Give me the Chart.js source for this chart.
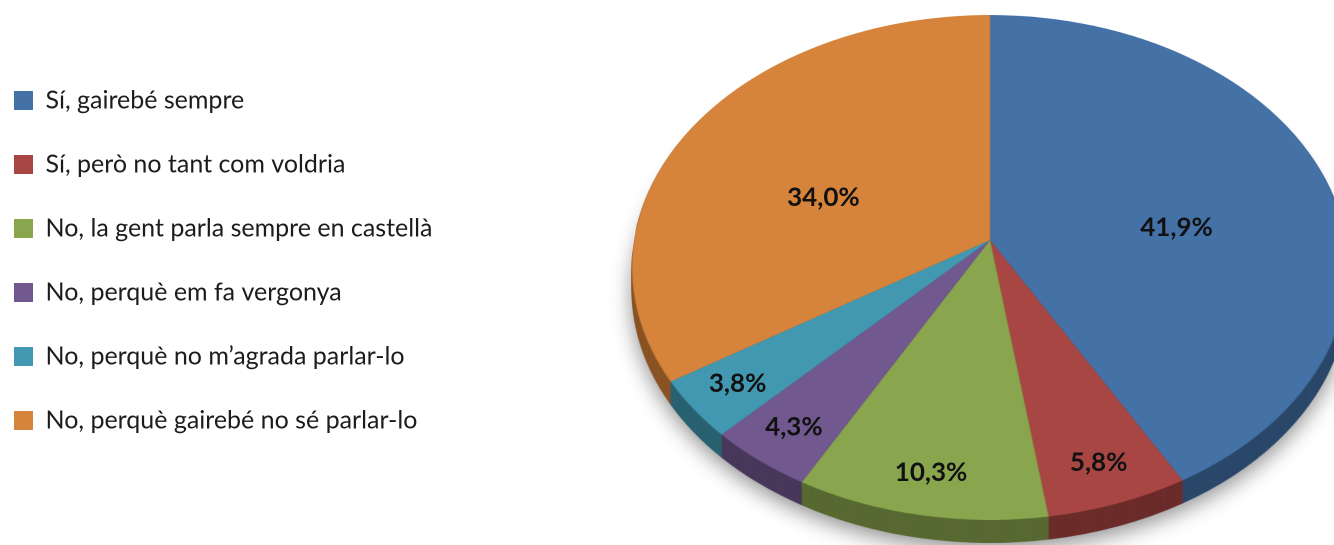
<!DOCTYPE html>
<html>
<head>
<meta charset="utf-8">
<script src="https://cdn.jsdelivr.net/npm/chart.js@4.4.1/dist/chart.umd.min.js"></script>
<style>
  html, body { margin: 0; padding: 0; background: #fff; }
  #wrap { width: 1334px; height: 545px; position: relative; }
</style>
</head>
<body>
<div id="wrap"><canvas id="chart"></canvas></div>
<script>
const categories = [
  "Sí, gairebé sempre",
  "Sí, però no tant com voldria",
  "No, la gent parla sempre en castellà",
  "No, perquè em fa vergonya",
  "No, perquè no m’agrada parlar-lo",
  "No, perquè gairebé no sé parlar-lo"
];
const shares = [41.9, 5.8, 10.3, 4.3, 3.8, 34.0];
const sliceColors = ["#4471a6", "#a84643", "#89a54e", "#71598f", "#4298b0", "#d6833b"];

function formatShare(v) {
  return v.toFixed(1).replace(".", ",") + "%";
}

// takes the flat pie chart.js drew and lays it back in perspective,
// with a dark rim underneath and the percent labels on top
const tiltedPie = {
  id: "tiltedPie",
  afterDatasetsDraw(chart, args, opts) {
    const meta = chart.getDatasetMeta(0);
    const arcs = meta.data;
    const R = arcs[0].outerRadius, x0 = arcs[0].x, y0 = arcs[0].y;
    const dpr = chart.currentDevicePixelRatio;
    const canvas = chart.canvas, ctx = chart.ctx;

    const size = Math.ceil(2 * R * dpr);
    const flat = document.createElement("canvas");
    flat.width = flat.height = size;
    flat.getContext("2d").drawImage(canvas, (x0 - R) * dpr, (y0 - R) * dpr, 2 * R * dpr, 2 * R * dpr, 0, 0, size, size);

    const { cx, cy, top, bottom, rx, depth } = opts;
    const c = (top + bottom - 2 * cy) / (top - bottom);
    const a = cy - top + top * c;
    const k = rx * Math.sqrt(1 - c * c);
    const vAt = (y) => (y - cy) / (a - c * y);
    const project = (u, v) => {
      const d = 1 + c * v;
      return { x: cx + k * u / d, y: (a * v + cy) / d };
    };

    const warped = document.createElement("canvas");
    warped.width = canvas.width;
    warped.height = canvas.height;
    const w = warped.getContext("2d");
    w.setTransform(dpr, 0, 0, dpr, 0, 0);
    const step = 1 / dpr;
    for (let y = top; y < bottom; y += step) {
      const v0 = Math.max(-1, vAt(y));
      const v1 = Math.min(1, vAt(y + step));
      const half = k / (1 + c * (v0 + v1) / 2);
      const sy0 = (v0 + 1) / 2 * size;
      const sy1 = (v1 + 1) / 2 * size;
      w.drawImage(flat, 0, sy0, size, Math.max(sy1 - sy0, 0.5), cx - half, y, 2 * half, step);
    }

    const dark = document.createElement("canvas");
    dark.width = canvas.width;
    dark.height = canvas.height;
    const dk = dark.getContext("2d");
    dk.drawImage(warped, 0, 0);
    dk.globalCompositeOperation = "source-atop";
    dk.fillStyle = "rgba(0,0,0,0.36)";
    dk.fillRect(0, 0, dark.width, dark.height);

    ctx.save();
    ctx.setTransform(1, 0, 0, 1, 0, 0);
    const left = chart.chartArea.left * dpr;
    ctx.clearRect(left, 0, canvas.width - left, canvas.height);
    ctx.shadowColor = "rgba(0,0,0,0.45)";
    ctx.shadowBlur = 22 * dpr;
    ctx.shadowOffsetY = 6 * dpr;
    ctx.drawImage(dark, 0, depth * dpr);
    ctx.shadowColor = "transparent";
    for (let dd = depth - step; dd > 0; dd -= step) {
      ctx.drawImage(dark, 0, dd * dpr);
    }
    ctx.drawImage(warped, 0, 0);
    ctx.restore();

    ctx.save();
    ctx.font = "bold 26px Lato";
    ctx.fillStyle = "#111";
    ctx.textAlign = "center";
    ctx.textBaseline = "middle";
    arcs.forEach((arc, i) => {
      const mid = (arc.startAngle + arc.endAngle) / 2;
      const big = shares[i] > 20;
      const r = big ? 0.55 : 0.86;
      const p = project(Math.cos(mid) * r, Math.sin(mid) * r);
      ctx.fillText(formatShare(shares[i]), p.x, p.y + (big ? 22 : 0));
    });
    ctx.restore();
  }
};

Chart.defaults.font.family = "Lato";

new Chart(document.getElementById("chart"), {
  type: "pie",
  data: {
    labels: categories,
    datasets: [{
      data: shares,
      backgroundColor: sliceColors,
      borderWidth: 0
    }]
  },
  options: {
    responsive: true,
    maintainAspectRatio: false,
    animation: false,
    devicePixelRatio: 2,
    layout: { padding: { left: -25, top: 49 } },
    plugins: {
      legend: {
        position: "left",
        align: "start",
        onClick: null,
        labels: {
          color: "#1c1c1c",
          font: { size: 25 },
          boxWidth: 19,
          boxHeight: 19,
          padding: 39
        }
      },
      tooltip: { enabled: false },
      tiltedPie: { cx: 990, cy: 240, top: 15, bottom: 520, rx: 358, depth: 23 }
    }
  },
  plugins: [tiltedPie]
});
</script>
</body>
</html>
